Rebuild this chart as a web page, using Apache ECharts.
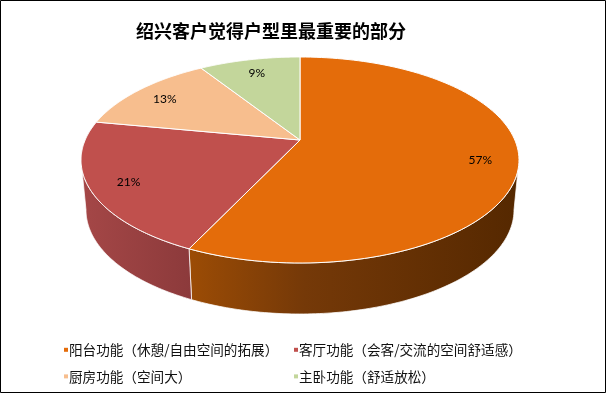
<!DOCTYPE html>
<html><head><meta charset="utf-8">
<script src="https://cdn.jsdelivr.net/npm/echarts@6/dist/echarts.min.js"></script>
<style>html,body{margin:0;padding:0;background:#fff}#c{width:606px;height:393px}</style>
</head><body><div id="c"></div>
<script>
const categories = ['阳台功能（休憩/自由空间的拓展）', '客厅功能（会客/交流的空间舒适感）', '厨房功能（空间大）', '主卧功能（舒适放松）'];
const values = [57, 21, 13, 9];
const labels = ['57%', '21%', '13%', '9%'];
const topColors = ['#E46C0A', '#C0504D', '#F7BE8E', '#C3D69B'];
const sideStops = [
  [[0, '#9C4C05'], [0.35, '#753908'], [1, '#552800']],
  [[0, '#A54747'], [1, '#8C3A3B']],
  [[0, '#C98F5E'], [1, '#A87446']],
  [[0, '#9CAF72'], [1, '#7F9157']]
];

const chart = echarts.init(document.getElementById('c'), null, {renderer: 'canvas'});
const total = values.reduce((a, b) => a + b, 0);
const cum = [];
values.reduce((acc, v, i) => { cum[i] = acc; return acc + v; }, 0);

const cx = 300, cy = 160, rx = 219, ry = 103, k = -0.194, depth = 50, rxb = 214, ryb = 104;
const cc = Math.sqrt(1 - k * k);
function proj(theta, r) {
  const u = r * Math.cos(theta), v = r * Math.sin(theta);
  const d = 1 + k * v;
  return [u * cc / d, (v + k) / d];
}
const frontA = Math.asin(-k), frontB = Math.PI - Math.asin(-k);

function makeRender(i) {
  return function (params, api) {
    const start = -Math.PI / 2 + 2 * Math.PI * cum[i] / total;
    const end = start + 2 * Math.PI * api.value(0) / total;
    const N = 120;
    const top = [];
    const c0 = proj(0, 0);
    top.push([cx + c0[0] * rx, cy + c0[1] * ry]);
    for (let j = 0; j <= N; j++) {
      const t = start + (end - start) * j / N;
      const p = proj(t, 1);
      top.push([cx + p[0] * rx, cy + p[1] * ry]);
    }
    const children = [];
    const a = Math.max(start, frontA), b = Math.min(end, frontB);
    if (b > a) {
      const upper = [], lower = [];
      for (let j = 0; j <= N; j++) {
        const t = a + (b - a) * j / N;
        const p = proj(t, 1);
        upper.push([cx + p[0] * rx, cy + p[1] * ry]);
        lower.push([cx + p[0] * rxb, cy + depth + p[1] * ryb]);
      }
      const side = upper.concat(lower.reverse());
      children.push({
        type: 'polygon', shape: {points: side},
        style: {
          fill: new echarts.graphic.LinearGradient(0, 0, 1, 0, sideStops[i].map(s => ({offset: s[0], color: s[1]}))),
          stroke: 'rgba(255,255,255,0.75)', lineWidth: 1
        }
      });
    }
    children.push({
      type: 'polygon', shape: {points: top},
      style: {fill: topColors[i], stroke: '#fff', lineWidth: 1}
    });
    const mid = (start + end) / 2;
    const lp = proj(mid, 0.83);
    children.push({
      type: 'text', x: cx + lp[0] * rx, y: cy + lp[1] * ry + 2,
      style: {text: labels[i], fill: '#000', font: '12px Lato', align: 'center', verticalAlign: 'middle'}
    });
    return {type: 'group', children: children};
  };
}

const series = categories.map((name, i) => ({
  type: 'custom', name: name, coordinateSystem: 'none',
  itemStyle: {color: topColors[i]},
  renderItem: makeRender(i),
  data: [{value: [values[i]], name: name}],
  silent: true, animation: false
}));

const legendText = {fontSize: 13.6, fontFamily: 'Noto Sans CJK SC', color: '#111', padding: [0, 0, 0, -4]};
chart.setOption({
  backgroundColor: '#fff',
  animation: false,
  title: {
    text: '绍兴客户觉得户型里最重要的部分', left: 131, top: 17,
    textStyle: {fontSize: 18, fontWeight: 'bold', color: '#000', fontFamily: 'Noto Sans CJK SC'}
  },
  legend: [
    {data: [categories[0], categories[2]], orient: 'vertical', left: 64, top: 343, padding: 0,
     itemGap: 13, itemWidth: 4, itemHeight: 4, icon: 'rect', textStyle: legendText},
    {data: [categories[1], categories[3]], orient: 'vertical', left: 294, top: 343, padding: 0,
     itemGap: 13, itemWidth: 4, itemHeight: 4, icon: 'rect', textStyle: legendText}
  ],
  graphic: [{type: 'rect', shape: {x: 0.5, y: 0.5, width: 605, height: 392}, style: {fill: null, stroke: '#000', lineWidth: 1}, z: 100}],
  series: series
});
</script>
</body></html>
